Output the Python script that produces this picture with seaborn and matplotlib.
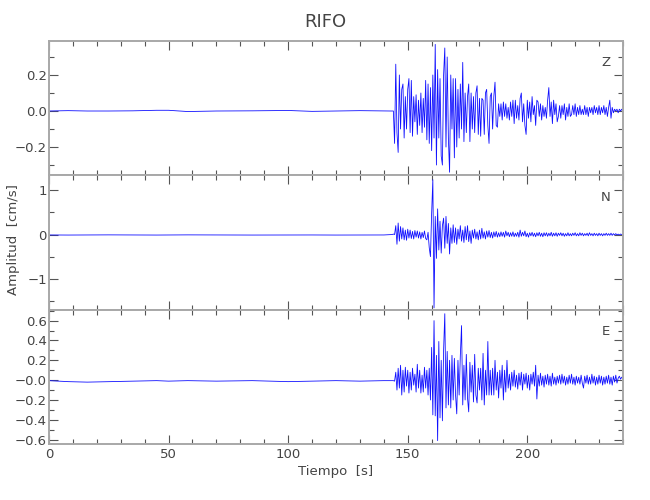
import numpy as np
import pandas as pd
import matplotlib
matplotlib.use("Agg")
import matplotlib.pyplot as plt
from matplotlib.ticker import MultipleLocator, FixedLocator, FixedFormatter
import seaborn as sns

# ---------------- data ----------------
title = "RIFO"
xlabel = "Tiempo  [s]"
ylabel = "Amplitud  [cm/s]"
channels = ["Z", "N", "E"]

# pre-event (quiet) part, seconds
pre_t = [0, 8, 16, 25, 35, 45, 50, 58, 70, 85, 100, 110, 120, 130, 140]
pre_z = [0.0, 0.002, 0.0, 0.0, 0.001, 0.004, 0.004, -0.003, 0.0, 0.001, 0.003, -0.002, 0.0, 0.002, 0.0]
pre_n = [-0.01, -0.012, -0.01, -0.008, -0.01, -0.012, -0.01, -0.008, -0.01, -0.012, -0.01, -0.01, -0.012, -0.01, -0.01]
pre_e = [-0.005, -0.015, -0.02, -0.015, -0.01, -0.005, -0.01, -0.005, -0.01, -0.005, -0.015, -0.01, -0.005, -0.01, -0.005]

# event part, sampled from t0 every dt seconds
event_t0 = 143.0
event_dt = 0.5
ev_z = [0.0, 0.0, 0.0, -0.18, 0.26, -0.12, -0.23, 0.20, -0.10, 0.12,
        0.15, -0.15, 0.08, -0.10, 0.12, 0.18, -0.12, 0.17, -0.14, 0.08,
        -0.06, 0.09, -0.13, 0.06, -0.08, 0.10, -0.12, 0.07, -0.09, 0.17,
        -0.16, 0.15, -0.18, 0.13, -0.22, 0.20, -0.15, 0.37, -0.30, 0.23,
        -0.15, 0.18, -0.25, -0.30, 0.20, 0.35, -0.20, 0.30, -0.15, -0.34,
        0.20, -0.10, 0.18, -0.26, 0.18, -0.20, 0.12, -0.15, 0.15, -0.10,
        0.27, -0.17, 0.10, -0.12, 0.08, 0.15, -0.17, 0.10, -0.10, 0.08,
        -0.12, 0.10, 0.14, -0.13, 0.07, -0.14, 0.07, 0.06, -0.13, 0.10,
        0.12, -0.08, -0.18, 0.08, 0.10, -0.10, 0.08, 0.16, -0.08, -0.09,
        0.04, -0.03, 0.04, -0.05, 0.05, -0.03, 0.04, -0.04, 0.02, -0.05,
        0.05, -0.03, 0.06, -0.07, 0.06, -0.04, 0.03, -0.05, 0.07, 0.10,
        -0.06, 0.04, -0.08, -0.13, 0.06, -0.04, 0.05, -0.06, 0.08, -0.02,
        0.03, -0.08, 0.06, 0.05, -0.03, 0.04, -0.05, 0.03, -0.03, 0.02,
        -0.04, 0.06, 0.13, -0.03, 0.05, -0.07, 0.06, -0.02, 0.04, -0.06,
        -0.03, 0.03, -0.04, 0.03, -0.02, 0.04, -0.05, 0.02, -0.03, 0.04,
        -0.03, -0.02, 0.03, -0.02, 0.04, -0.03, 0.02, -0.02, 0.03, -0.02,
        0.01, -0.02, 0.03, -0.02, 0.02, -0.03, 0.02, -0.01, 0.02, -0.02,
        0.03, -0.01, 0.02, -0.02, 0.03, -0.02, 0.02, -0.01, 0.03, -0.02,
        0.02, -0.03, 0.02, 0.06, -0.04, 0.02, -0.01, 0.01, 0.00, 0.01,
        -0.01, 0.01, 0.00, 0.01, 0.00]
ev_n = [0.0, 0.0, 0.01, 0.0, 0.20, -0.22, 0.26, -0.15, 0.18, -0.10,
        0.15, -0.12, 0.10, -0.13, 0.12, -0.08, 0.10, -0.09, 0.07, -0.10,
        0.09, -0.06, 0.08, -0.08, 0.06, -0.10, 0.05, -0.07, 0.08, -0.09,
        -0.12, 0.05, -0.30, -0.50, 0.48, 1.24, -1.66, 0.41, -0.54, 0.58,
        -0.35, 0.30, -0.42, 0.20, 0.37, -0.31, 0.41, -0.20, 0.25, -0.44,
        0.15, -0.20, 0.22, -0.18, 0.15, -0.22, 0.12, -0.10, 0.20, -0.15,
        0.10, -0.18, 0.18, -0.12, 0.20, -0.16, 0.08, -0.20, 0.10, -0.08,
        0.12, -0.10, 0.06, -0.12, 0.10, -0.10, 0.14, -0.08, 0.06, -0.10,
        0.08, -0.06, 0.09, -0.07, 0.05, -0.08, 0.06, -0.05, 0.07, -0.06,
        0.04, -0.05, 0.06, -0.04, 0.05, -0.06, 0.08, -0.03, 0.05, -0.05,
        0.04, -0.04, 0.06, -0.05, 0.03, -0.04, 0.05, -0.06, 0.10, -0.04,
        0.05, -0.03, 0.08, -0.05, 0.03, -0.06, 0.04, -0.03, 0.05, -0.04,
        0.03, -0.05, 0.04, -0.03, 0.05, -0.04, 0.03, -0.05, 0.04, -0.03,
        0.04, -0.04, 0.03, -0.03, 0.05, -0.04, 0.03, -0.03, 0.04, -0.04,
        0.03, -0.02, 0.04, -0.03, 0.03, -0.04, 0.02, -0.03, 0.04, -0.03,
        0.02, -0.03, 0.03, -0.02, 0.04, -0.03, 0.02, -0.03, 0.04, -0.02,
        0.03, -0.03, 0.02, -0.02, 0.03, -0.03, 0.04, -0.02, 0.02, -0.03,
        0.03, -0.02, 0.02, -0.03, 0.03, -0.02, 0.02, -0.03, 0.02, -0.02,
        0.03, -0.02, 0.02, -0.02, 0.03, -0.02, 0.02, -0.01, 0.02, -0.01,
        0.01, -0.01, 0.01, 0.00]
ev_e = [-0.005, -0.005, -0.005, -0.01, 0.08, -0.10, 0.12, -0.08, 0.15, -0.15,
        0.10, -0.12, 0.13, -0.06, 0.10, -0.13, 0.08, -0.10, 0.12, -0.05,
        0.06, -0.12, 0.16, -0.08, 0.10, -0.13, 0.05, -0.12, 0.13, -0.08,
        0.10, -0.15, 0.12, -0.20, 0.33, -0.35, 0.60, -0.36, 0.25, -0.61,
        0.39, -0.38, 0.20, -0.41, 0.30, 0.67, -0.28, 0.29, -0.25, 0.20,
        -0.28, 0.25, -0.20, 0.22, -0.15, -0.34, 0.20, -0.15, 0.25, 0.55,
        -0.25, 0.15, -0.20, 0.26, -0.18, -0.32, 0.18, -0.12, 0.15, -0.22,
        0.26, -0.15, -0.23, 0.12, -0.10, 0.12, -0.20, 0.27, -0.25, 0.10,
        -0.15, 0.39, -0.15, 0.10, -0.15, 0.12, -0.15, 0.20, -0.10, 0.08,
        -0.18, 0.10, -0.08, 0.15, -0.20, 0.10, -0.12, 0.20, -0.08, 0.06,
        -0.10, 0.08, -0.06, 0.10, -0.07, 0.05, -0.09, 0.07, -0.05, 0.08,
        -0.10, 0.06, -0.04, 0.07, -0.08, 0.05, -0.10, 0.06, -0.04, 0.08,
        -0.06, 0.15, -0.19, 0.05, -0.06, 0.07, -0.05, 0.04, -0.07, 0.05,
        -0.04, 0.06, -0.05, 0.04, -0.06, 0.07, -0.04, 0.03, -0.05, 0.04,
        -0.03, 0.05, -0.04, 0.06, -0.03, 0.04, -0.05, 0.03, -0.04, 0.05,
        -0.03, 0.06, -0.04, 0.03, -0.05, 0.04, -0.03, 0.03, -0.04, 0.05,
        -0.03, -0.08, 0.04, -0.03, 0.05, -0.04, 0.03, -0.04, 0.06, -0.03,
        0.04, -0.05, 0.03, -0.04, 0.05, -0.03, 0.04, -0.05, 0.03, -0.04,
        0.04, -0.03, 0.05, -0.04, 0.03, -0.05, 0.04, -0.02, 0.05, -0.03,
        0.02, 0.04, 0.01, 0.03, 0.02]

x_limits = (0, 240)
x_ticks = [0, 50, 100, 150, 200]
x_ticklabels = ["0", "50", "100", "150", "200"]
y_limits = [(-0.357, 0.389), (-1.70, 1.34), (-0.644, 0.711)]
y_ticks = [[-0.2, 0.0, 0.2], [-1, 0, 1], [-0.6, -0.4, -0.2, 0.0, 0.2, 0.4, 0.6]]
y_ticklabels = [["\u22120.2", "0.0", "0.2"],
                ["\u22121", "0", "1"],
                ["\u22120.6", "\u22120.4", "\u22120.2", "\u22120.0", "0.2", "0.4", "0.6"]]
y_minor = [0.1, 0.5, 0.1]

# ---------------- plotting ----------------
sns.set_theme(style="white")
plt.rcParams["font.family"] = ["Liberation Sans Narrow", "DejaVu Sans"]

text_color = "#444444"
spine_color = "#a8a8a8"
tick_color = "#555555"
line_color = "#1010ff"

fig = plt.figure(figsize=(6.5, 5.0), dpi=100)
left, width = 0.0754, 0.883
bottoms = [0.6494, 0.3807, 0.112]
height = 0.2687

series = [(pre_z, ev_z), (pre_n, ev_n), (pre_e, ev_e)]
for i, (pre, ev) in enumerate(series):
    ax = fig.add_axes([left, bottoms[i], width, height])
    ev_t = event_t0 + event_dt * np.arange(len(ev))
    df = pd.DataFrame({"t": np.concatenate([pre_t, ev_t]),
                       "v": np.concatenate([pre, ev])})
    sns.lineplot(data=df, x="t", y="v", ax=ax, color=line_color,
                 linewidth=0.6, estimator=None, sort=False)
    ax.set_xlim(*x_limits)
    ax.set_ylim(*y_limits[i])
    ax.set_xlabel("")
    ax.set_ylabel("")
    ax.xaxis.set_major_locator(FixedLocator(x_ticks))
    ax.xaxis.set_minor_locator(MultipleLocator(10))
    ax.yaxis.set_major_locator(FixedLocator(y_ticks[i]))
    ax.yaxis.set_major_formatter(FixedFormatter(y_ticklabels[i]))
    ax.yaxis.set_minor_locator(MultipleLocator(y_minor[i]))
    if i == 2:
        ax.xaxis.set_major_formatter(FixedFormatter(x_ticklabels))
    else:
        ax.set_xticklabels([])
    ax.tick_params(which="both", direction="in", top=True, right=True,
                   bottom=True, left=True, color=tick_color,
                   labelcolor=text_color, labelsize=9.5, width=0.8)
    ax.tick_params(which="major", length=6.5)
    ax.tick_params(which="minor", length=3.6)
    ax.tick_params(axis="y", pad=1.5)
    ax.tick_params(axis="x", pad=3)
    for s in ax.spines.values():
        s.set_color(spine_color)
        s.set_linewidth(1.4)
    ax.text(0.970, 0.836, channels[i], transform=ax.transAxes,
            ha="center", va="center", fontsize=9.5, color=text_color)

fig.text(0.5, 1 - 22 / 500, title, ha="center", va="center",
         fontsize=13, color=text_color)
fig.text(336 / 650, 1 - 472 / 500, xlabel, ha="center", va="center",
         fontsize=9.5, color=text_color)
fig.text(14 / 650, 1 - 240 / 500, ylabel, ha="center", va="center",
         rotation=90, fontsize=9.5, color=text_color)

fig.savefig("out.png", dpi=100, facecolor="white")
